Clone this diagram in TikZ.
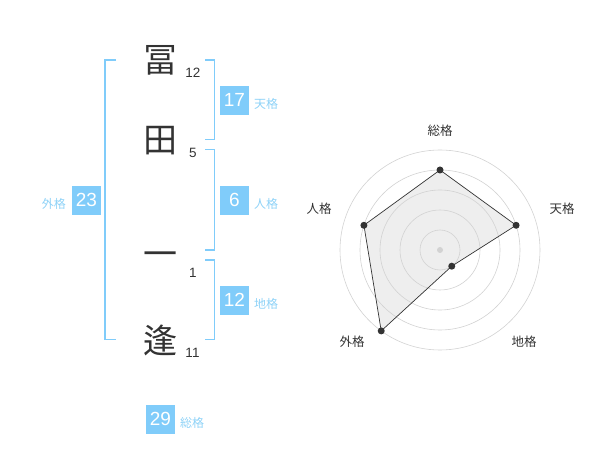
\documentclass[tikz,border=0pt]{standalone}
\usepackage{fontspec}
\setmainfont{Liberation Sans}
\newfontfamily\cjk{Noto Sans CJK JP}
\definecolor{skyb}{HTML}{80CCFA}
\definecolor{skyt}{HTML}{8ED2F7}
\definecolor{ink}{HTML}{333333}
\definecolor{ring}{HTML}{D2D2D2}
\definecolor{area}{HTML}{EEEEEE}
\begin{document}
\begin{tikzpicture}[x=1pt,y=-1pt,
  bigchar/.style={text=ink,font=\cjk\fontsize{34}{34}\selectfont,inner sep=0pt},
  stroke/.style={text=ink,font=\fontsize{13.5}{13.5}\selectfont,inner sep=0pt},
  valbox/.style={fill=skyb,text=white,minimum width=29pt,minimum height=29pt,inner sep=0pt,font=\fontsize{19}{19}\selectfont},
  kakulbl/.style={text=skyt,font=\cjk\fontsize{12}{12}\selectfont,inner sep=0pt},
  bracket/.style={draw=skyb,line width=1.5pt},
  axislbl/.style={text=ink,font=\cjk\fontsize{12.5}{12.5}\selectfont,inner sep=0pt},
  dot/.style={circle,fill=ink,inner sep=0pt,minimum size=7pt},
]
\useasboundingbox (0,0) rectangle (600,470);
% name characters
\node[bigchar] (c1) at (160,60) {冨};
\node[bigchar] (c2) at (160,141) {田};
\node[bigchar] (c3) at (160,259) {一};
\node[bigchar] (c4) at (160,340) {逢};
\node[stroke] (s1) at (193,72.7) {12};
\node[stroke] (s2) at (193,152.7) {5};
\node[stroke] (s3) at (193,273.3) {1};
\node[stroke] (s4) at (192.5,353.3) {11};
% brackets
\draw[bracket] (116,60) -- (105,60) -- (105,339.3) -- (116,339.3);
\draw[bracket] (205,60) -- (214.3,60) -- (214.3,139.3) -- (205,139.3);
\draw[bracket] (205,149.3) -- (214.3,149.3) -- (214.3,250) -- (205,250);
\draw[bracket] (205,260) -- (214.3,260) -- (214.3,339.3) -- (205,339.3);
% values
\node[valbox] (ten) at (234.5,100.3) {17};
\node[kakulbl,anchor=west] (tenl) at (254,103.5) {天格};
\node[valbox] (jin) at (234.5,200.3) {6};
\node[kakulbl,anchor=west] (jinl) at (254,203.5) {人格};
\node[valbox] (chi) at (234.5,300.3) {12};
\node[kakulbl,anchor=west] (chil) at (254,303.5) {地格};
\node[valbox] (gai) at (86.5,200.3) {23};
\node[kakulbl,anchor=east] (gail) at (66,203.5) {外格};
\node[valbox] (sou) at (160.5,419) {29};
\node[kakulbl,anchor=west] (soul) at (180,422.5) {総格};
% radar chart
\begin{scope}[shift={(440,250)}]
  \coordinate (pS) at (90:80pt);
  \coordinate (pT) at (18:80pt);
  \coordinate (pC) at (-54:20pt);
  \coordinate (pG) at (-126:100pt);
  \coordinate (pJ) at (162:80pt);
  \fill[area] (pS) -- (pT) -- (pC) -- (pG) -- (pJ) -- cycle;
  \foreach \r in {20,40,60,80,100} \draw[ring,line width=0.6pt] (0,0) circle[radius=\r pt];
  \fill[ring] (0,0) circle[radius=3pt];
  \draw[ink,line width=0.7pt] (pS) -- (pT) -- (pC) -- (pG) -- (pJ) -- cycle;
  \foreach \p in {pS,pT,pC,pG,pJ} \node[dot] at (\p) {};
\end{scope}
\node[axislbl] (aS) at (440,130.7) {総格};
\node[axislbl] (aT) at (562,209) {天格};
\node[axislbl] (aC) at (524,341.7) {地格};
\node[axislbl] (aG) at (352,341.7) {外格};
\node[axislbl] (aJ) at (319,209) {人格};
\end{tikzpicture}
\end{document}
